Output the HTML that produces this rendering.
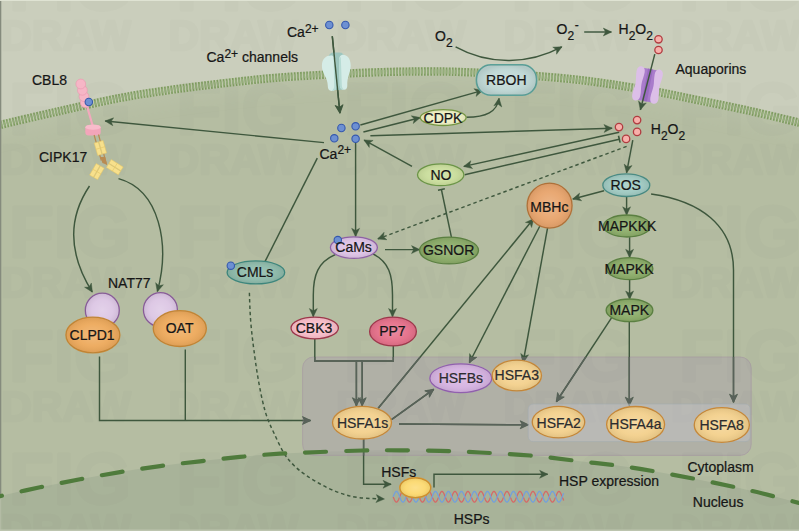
<!DOCTYPE html>
<html><head><meta charset="utf-8"><title>Heat stress signalling</title>
<style>
html,body{margin:0;padding:0;background:#cacebc;}
svg{display:block}
text{font-family:"Liberation Sans",Arial,sans-serif;font-size:14px;fill:#161616;stroke:#161616;stroke-width:0.22px}
.m{text-anchor:middle}
.g{fill:#2c2c2e;stroke:#2c2c2e}
.s{font-size:12px}
.ln{fill:none;stroke:#3e573d;stroke-width:1.45;stroke-linecap:butt}
.ar{marker-end:url(#ah)}
.lg{stroke:#59625a}
.arg{marker-end:url(#ahg)}
.dash{stroke-dasharray:3.5 2.9;stroke-width:1.45}
</style></head><body>
<svg width="799" height="531" viewBox="0 0 799 531">
<defs>
<marker id="ah" markerUnits="userSpaceOnUse" markerWidth="10" markerHeight="10" refX="9.6" refY="5" orient="auto" viewBox="0 0 10 10" overflow="visible">
<path d="M10,5 L1.6,1 L3.8,5 L1.6,9 Z" fill="#3e573d" stroke="#3e573d" stroke-width="0.4" stroke-linejoin="round"/>
</marker>
<marker id="tb" markerUnits="userSpaceOnUse" markerWidth="10" markerHeight="10" refX="5" refY="5" orient="auto" viewBox="0 0 10 10" overflow="visible">
<path d="M5,1.5 L5,8.5" stroke="#3e573d" stroke-width="1.6" fill="none"/>
</marker>
<marker id="ahg" markerUnits="userSpaceOnUse" markerWidth="10" markerHeight="10" refX="9.6" refY="5" orient="auto" viewBox="0 0 10 10" overflow="visible">
<path d="M10,5 L1.6,1 L3.8,5 L1.6,9 Z" fill="#59625a" stroke="#59625a" stroke-width="0.4" stroke-linejoin="round"/>
</marker>
<marker id="tbg" markerUnits="userSpaceOnUse" markerWidth="10" markerHeight="10" refX="5" refY="5" orient="auto" viewBox="0 0 10 10" overflow="visible">
<path d="M5,1.5 L5,8.5" stroke="#59625a" stroke-width="1.6" fill="none"/>
</marker>
<clipPath id="boxclip"><rect x="302.6" y="357" width="448.6" height="98.4" rx="11" ry="11"/></clipPath>
<radialGradient id="hl" cx="50%" cy="50%" r="50%">
<stop offset="0" stop-color="#fff" stop-opacity="0.2"/><stop offset="0.6" stop-color="#fff" stop-opacity="0.05"/><stop offset="1" stop-color="#000" stop-opacity="0.07"/>
</radialGradient>
</defs>
<!-- background -->
<rect x="0" y="0" width="799" height="531" fill="#cacebc"/>
<!-- cytoplasm -->
<path d="M-20.0,131.0 C-16.7,130.0 -13.3,128.3 0.0,125.0 C13.3,121.7 40.0,115.5 60.0,111.0 C80.0,106.5 101.7,101.5 120.0,98.0 C138.3,94.5 153.3,92.4 170.0,90.0 C186.7,87.6 203.3,85.7 220.0,83.7 C236.7,81.8 253.3,79.8 270.0,78.3 C286.7,76.8 305.0,75.9 320.0,75.0 C335.0,74.1 346.7,73.5 360.0,72.9 C373.3,72.4 388.3,71.9 400.0,71.7 C411.7,71.5 420.0,71.5 430.0,71.5 C440.0,71.5 446.7,71.5 460.0,72.0 C473.3,72.5 493.3,73.3 510.0,74.3 C526.7,75.3 545.2,76.6 560.0,78.0 C574.8,79.4 584.0,80.4 599.0,82.5 C614.0,84.6 633.3,87.5 650.0,90.5 C666.7,93.5 682.3,97.0 699.0,100.4 C715.7,103.8 733.3,107.3 750.0,111.0 C766.7,114.7 787.3,119.8 799.0,122.6 C810.7,125.4 816.5,127.1 820.0,128.0 L820,540 L-20,540 Z" fill="#b5bda2"/>
<!-- nucleus -->
<path d="M-20.0,501.0 C-16.7,500.2 -10.0,498.4 0.0,496.1 C10.0,493.8 26.7,490.1 40.0,487.3 C53.3,484.5 66.7,481.8 80.0,479.3 C93.3,476.8 106.7,474.3 120.0,472.1 C133.3,469.9 146.7,467.9 160.0,466.1 C173.3,464.3 186.7,462.8 200.0,461.3 C213.3,459.8 226.7,458.2 240.0,456.9 C253.3,455.6 266.7,454.5 280.0,453.7 C293.3,452.9 306.2,452.5 320.0,452.0 C333.8,451.5 349.7,450.8 363.0,450.5 C376.3,450.2 387.2,450.2 400.0,450.3 C412.8,450.4 426.7,450.4 440.0,450.8 C453.3,451.2 465.0,451.7 480.0,452.5 C495.0,453.3 513.3,454.0 530.0,455.5 C546.7,457.0 563.2,459.3 580.0,461.3 C596.8,463.3 612.0,464.6 631.0,467.5 C650.0,470.4 674.2,474.9 694.0,478.7 C713.8,482.5 732.5,486.5 750.0,490.5 C767.5,494.5 787.3,499.9 799.0,502.9 C810.7,505.9 816.5,507.6 820.0,508.5 L820,540 L-20,540 Z" fill="#a8b399"/>
<!-- halo under membrane -->
<clipPath id="cyt"><path d="M-20.0,131.0 C-16.7,130.0 -13.3,128.3 0.0,125.0 C13.3,121.7 40.0,115.5 60.0,111.0 C80.0,106.5 101.7,101.5 120.0,98.0 C138.3,94.5 153.3,92.4 170.0,90.0 C186.7,87.6 203.3,85.7 220.0,83.7 C236.7,81.8 253.3,79.8 270.0,78.3 C286.7,76.8 305.0,75.9 320.0,75.0 C335.0,74.1 346.7,73.5 360.0,72.9 C373.3,72.4 388.3,71.9 400.0,71.7 C411.7,71.5 420.0,71.5 430.0,71.5 C440.0,71.5 446.7,71.5 460.0,72.0 C473.3,72.5 493.3,73.3 510.0,74.3 C526.7,75.3 545.2,76.6 560.0,78.0 C574.8,79.4 584.0,80.4 599.0,82.5 C614.0,84.6 633.3,87.5 650.0,90.5 C666.7,93.5 682.3,97.0 699.0,100.4 C715.7,103.8 733.3,107.3 750.0,111.0 C766.7,114.7 787.3,119.8 799.0,122.6 C810.7,125.4 816.5,127.1 820.0,128.0 L820,540 L-20,540 Z"/></clipPath>
<filter id="bl" x="-5%" y="-50%" width="110%" height="200%"><feGaussianBlur stdDeviation="7"/></filter>
<g clip-path="url(#cyt)"><path d="M-20.0,131.0 C-16.7,130.0 -13.3,128.3 0.0,125.0 C13.3,121.7 40.0,115.5 60.0,111.0 C80.0,106.5 101.7,101.5 120.0,98.0 C138.3,94.5 153.3,92.4 170.0,90.0 C186.7,87.6 203.3,85.7 220.0,83.7 C236.7,81.8 253.3,79.8 270.0,78.3 C286.7,76.8 305.0,75.9 320.0,75.0 C335.0,74.1 346.7,73.5 360.0,72.9 C373.3,72.4 388.3,71.9 400.0,71.7 C411.7,71.5 420.0,71.5 430.0,71.5 C440.0,71.5 446.7,71.5 460.0,72.0 C473.3,72.5 493.3,73.3 510.0,74.3 C526.7,75.3 545.2,76.6 560.0,78.0 C574.8,79.4 584.0,80.4 599.0,82.5 C614.0,84.6 633.3,87.5 650.0,90.5 C666.7,93.5 682.3,97.0 699.0,100.4 C715.7,103.8 733.3,107.3 750.0,111.0 C766.7,114.7 787.3,119.8 799.0,122.6 C810.7,125.4 816.5,127.1 820.0,128.0" fill="none" stroke="#c6ccb6" stroke-width="26" stroke-opacity="0.22" filter="url(#bl)"/></g>
<!-- membrane -->
<path d="M-20.0,131.0 C-16.7,130.0 -13.3,128.3 0.0,125.0 C13.3,121.7 40.0,115.5 60.0,111.0 C80.0,106.5 101.7,101.5 120.0,98.0 C138.3,94.5 153.3,92.4 170.0,90.0 C186.7,87.6 203.3,85.7 220.0,83.7 C236.7,81.8 253.3,79.8 270.0,78.3 C286.7,76.8 305.0,75.9 320.0,75.0 C335.0,74.1 346.7,73.5 360.0,72.9 C373.3,72.4 388.3,71.9 400.0,71.7 C411.7,71.5 420.0,71.5 430.0,71.5 C440.0,71.5 446.7,71.5 460.0,72.0 C473.3,72.5 493.3,73.3 510.0,74.3 C526.7,75.3 545.2,76.6 560.0,78.0 C574.8,79.4 584.0,80.4 599.0,82.5 C614.0,84.6 633.3,87.5 650.0,90.5 C666.7,93.5 682.3,97.0 699.0,100.4 C715.7,103.8 733.3,107.3 750.0,111.0 C766.7,114.7 787.3,119.8 799.0,122.6 C810.7,125.4 816.5,127.1 820.0,128.0" fill="none" stroke="#bfc8ac" stroke-width="8.4"/>
<path d="M-20.0,131.0 C-16.7,130.0 -13.3,128.3 0.0,125.0 C13.3,121.7 40.0,115.5 60.0,111.0 C80.0,106.5 101.7,101.5 120.0,98.0 C138.3,94.5 153.3,92.4 170.0,90.0 C186.7,87.6 203.3,85.7 220.0,83.7 C236.7,81.8 253.3,79.8 270.0,78.3 C286.7,76.8 305.0,75.9 320.0,75.0 C335.0,74.1 346.7,73.5 360.0,72.9 C373.3,72.4 388.3,71.9 400.0,71.7 C411.7,71.5 420.0,71.5 430.0,71.5 C440.0,71.5 446.7,71.5 460.0,72.0 C473.3,72.5 493.3,73.3 510.0,74.3 C526.7,75.3 545.2,76.6 560.0,78.0 C574.8,79.4 584.0,80.4 599.0,82.5 C614.0,84.6 633.3,87.5 650.0,90.5 C666.7,93.5 682.3,97.0 699.0,100.4 C715.7,103.8 733.3,107.3 750.0,111.0 C766.7,114.7 787.3,119.8 799.0,122.6 C810.7,125.4 816.5,127.1 820.0,128.0" fill="none" stroke="#7f9c61" stroke-width="8.4" stroke-dasharray="1.7 1.4"/>
<path d="M-20.0,131.0 C-16.7,130.0 -13.3,128.3 0.0,125.0 C13.3,121.7 40.0,115.5 60.0,111.0 C80.0,106.5 101.7,101.5 120.0,98.0 C138.3,94.5 153.3,92.4 170.0,90.0 C186.7,87.6 203.3,85.7 220.0,83.7 C236.7,81.8 253.3,79.8 270.0,78.3 C286.7,76.8 305.0,75.9 320.0,75.0 C335.0,74.1 346.7,73.5 360.0,72.9 C373.3,72.4 388.3,71.9 400.0,71.7 C411.7,71.5 420.0,71.5 430.0,71.5 C440.0,71.5 446.7,71.5 460.0,72.0 C473.3,72.5 493.3,73.3 510.0,74.3 C526.7,75.3 545.2,76.6 560.0,78.0 C574.8,79.4 584.0,80.4 599.0,82.5 C614.0,84.6 633.3,87.5 650.0,90.5 C666.7,93.5 682.3,97.0 699.0,100.4 C715.7,103.8 733.3,107.3 750.0,111.0 C766.7,114.7 787.3,119.8 799.0,122.6 C810.7,125.4 816.5,127.1 820.0,128.0" fill="none" stroke="#94ad7a" stroke-width="4.4" stroke-dasharray="1.7 1.4"/>
<!-- grey box base -->
<rect x="302.6" y="357" width="448.6" height="98.4" rx="11" ry="11" fill="#aba3a9" fill-opacity="0.5" stroke="#a48fa2" stroke-opacity="0.5" stroke-width="1"/>
<g id="watermark" opacity="0.0095" style="font-weight:bold" fill="#000" stroke="#000" stroke-width="3.5" stroke-linejoin="round"><text x="9.0" y="10.0" style="font-size:72px;stroke:#000;stroke-width:3.5px;fill:#000" textLength="122" lengthAdjust="spacingAndGlyphs">FIG</text><text x="1.0" y="50.0" style="font-size:42px;stroke:#000;stroke-width:3px;fill:#000" textLength="130" lengthAdjust="spacingAndGlyphs">DRAW</text><text x="176.5" y="10.0" style="font-size:72px;stroke:#000;stroke-width:3.5px;fill:#000" textLength="122" lengthAdjust="spacingAndGlyphs">FIG</text><text x="168.5" y="50.0" style="font-size:42px;stroke:#000;stroke-width:3px;fill:#000" textLength="130" lengthAdjust="spacingAndGlyphs">DRAW</text><text x="344.0" y="10.0" style="font-size:72px;stroke:#000;stroke-width:3.5px;fill:#000" textLength="122" lengthAdjust="spacingAndGlyphs">FIG</text><text x="336.0" y="50.0" style="font-size:42px;stroke:#000;stroke-width:3px;fill:#000" textLength="130" lengthAdjust="spacingAndGlyphs">DRAW</text><text x="511.5" y="10.0" style="font-size:72px;stroke:#000;stroke-width:3.5px;fill:#000" textLength="122" lengthAdjust="spacingAndGlyphs">FIG</text><text x="503.5" y="50.0" style="font-size:42px;stroke:#000;stroke-width:3px;fill:#000" textLength="130" lengthAdjust="spacingAndGlyphs">DRAW</text><text x="679.0" y="10.0" style="font-size:72px;stroke:#000;stroke-width:3.5px;fill:#000" textLength="122" lengthAdjust="spacingAndGlyphs">FIG</text><text x="671.0" y="50.0" style="font-size:42px;stroke:#000;stroke-width:3px;fill:#000" textLength="130" lengthAdjust="spacingAndGlyphs">DRAW</text><text x="9.0" y="133.6" style="font-size:72px;stroke:#000;stroke-width:3.5px;fill:#000" textLength="122" lengthAdjust="spacingAndGlyphs">FIG</text><text x="1.0" y="173.6" style="font-size:42px;stroke:#000;stroke-width:3px;fill:#000" textLength="130" lengthAdjust="spacingAndGlyphs">DRAW</text><text x="176.5" y="133.6" style="font-size:72px;stroke:#000;stroke-width:3.5px;fill:#000" textLength="122" lengthAdjust="spacingAndGlyphs">FIG</text><text x="168.5" y="173.6" style="font-size:42px;stroke:#000;stroke-width:3px;fill:#000" textLength="130" lengthAdjust="spacingAndGlyphs">DRAW</text><text x="344.0" y="133.6" style="font-size:72px;stroke:#000;stroke-width:3.5px;fill:#000" textLength="122" lengthAdjust="spacingAndGlyphs">FIG</text><text x="336.0" y="173.6" style="font-size:42px;stroke:#000;stroke-width:3px;fill:#000" textLength="130" lengthAdjust="spacingAndGlyphs">DRAW</text><text x="511.5" y="133.6" style="font-size:72px;stroke:#000;stroke-width:3.5px;fill:#000" textLength="122" lengthAdjust="spacingAndGlyphs">FIG</text><text x="503.5" y="173.6" style="font-size:42px;stroke:#000;stroke-width:3px;fill:#000" textLength="130" lengthAdjust="spacingAndGlyphs">DRAW</text><text x="679.0" y="133.6" style="font-size:72px;stroke:#000;stroke-width:3.5px;fill:#000" textLength="122" lengthAdjust="spacingAndGlyphs">FIG</text><text x="671.0" y="173.6" style="font-size:42px;stroke:#000;stroke-width:3px;fill:#000" textLength="130" lengthAdjust="spacingAndGlyphs">DRAW</text><text x="9.0" y="257.2" style="font-size:72px;stroke:#000;stroke-width:3.5px;fill:#000" textLength="122" lengthAdjust="spacingAndGlyphs">FIG</text><text x="1.0" y="297.2" style="font-size:42px;stroke:#000;stroke-width:3px;fill:#000" textLength="130" lengthAdjust="spacingAndGlyphs">DRAW</text><text x="176.5" y="257.2" style="font-size:72px;stroke:#000;stroke-width:3.5px;fill:#000" textLength="122" lengthAdjust="spacingAndGlyphs">FIG</text><text x="168.5" y="297.2" style="font-size:42px;stroke:#000;stroke-width:3px;fill:#000" textLength="130" lengthAdjust="spacingAndGlyphs">DRAW</text><text x="344.0" y="257.2" style="font-size:72px;stroke:#000;stroke-width:3.5px;fill:#000" textLength="122" lengthAdjust="spacingAndGlyphs">FIG</text><text x="336.0" y="297.2" style="font-size:42px;stroke:#000;stroke-width:3px;fill:#000" textLength="130" lengthAdjust="spacingAndGlyphs">DRAW</text><text x="511.5" y="257.2" style="font-size:72px;stroke:#000;stroke-width:3.5px;fill:#000" textLength="122" lengthAdjust="spacingAndGlyphs">FIG</text><text x="503.5" y="297.2" style="font-size:42px;stroke:#000;stroke-width:3px;fill:#000" textLength="130" lengthAdjust="spacingAndGlyphs">DRAW</text><text x="679.0" y="257.2" style="font-size:72px;stroke:#000;stroke-width:3.5px;fill:#000" textLength="122" lengthAdjust="spacingAndGlyphs">FIG</text><text x="671.0" y="297.2" style="font-size:42px;stroke:#000;stroke-width:3px;fill:#000" textLength="130" lengthAdjust="spacingAndGlyphs">DRAW</text><text x="9.0" y="380.8" style="font-size:72px;stroke:#000;stroke-width:3.5px;fill:#000" textLength="122" lengthAdjust="spacingAndGlyphs">FIG</text><text x="1.0" y="420.8" style="font-size:42px;stroke:#000;stroke-width:3px;fill:#000" textLength="130" lengthAdjust="spacingAndGlyphs">DRAW</text><text x="176.5" y="380.8" style="font-size:72px;stroke:#000;stroke-width:3.5px;fill:#000" textLength="122" lengthAdjust="spacingAndGlyphs">FIG</text><text x="168.5" y="420.8" style="font-size:42px;stroke:#000;stroke-width:3px;fill:#000" textLength="130" lengthAdjust="spacingAndGlyphs">DRAW</text><text x="344.0" y="380.8" style="font-size:72px;stroke:#000;stroke-width:3.5px;fill:#000" textLength="122" lengthAdjust="spacingAndGlyphs">FIG</text><text x="336.0" y="420.8" style="font-size:42px;stroke:#000;stroke-width:3px;fill:#000" textLength="130" lengthAdjust="spacingAndGlyphs">DRAW</text><text x="511.5" y="380.8" style="font-size:72px;stroke:#000;stroke-width:3.5px;fill:#000" textLength="122" lengthAdjust="spacingAndGlyphs">FIG</text><text x="503.5" y="420.8" style="font-size:42px;stroke:#000;stroke-width:3px;fill:#000" textLength="130" lengthAdjust="spacingAndGlyphs">DRAW</text><text x="679.0" y="380.8" style="font-size:72px;stroke:#000;stroke-width:3.5px;fill:#000" textLength="122" lengthAdjust="spacingAndGlyphs">FIG</text><text x="671.0" y="420.8" style="font-size:42px;stroke:#000;stroke-width:3px;fill:#000" textLength="130" lengthAdjust="spacingAndGlyphs">DRAW</text><text x="9.0" y="504.4" style="font-size:72px;stroke:#000;stroke-width:3.5px;fill:#000" textLength="122" lengthAdjust="spacingAndGlyphs">FIG</text><text x="1.0" y="544.4" style="font-size:42px;stroke:#000;stroke-width:3px;fill:#000" textLength="130" lengthAdjust="spacingAndGlyphs">DRAW</text><text x="176.5" y="504.4" style="font-size:72px;stroke:#000;stroke-width:3.5px;fill:#000" textLength="122" lengthAdjust="spacingAndGlyphs">FIG</text><text x="168.5" y="544.4" style="font-size:42px;stroke:#000;stroke-width:3px;fill:#000" textLength="130" lengthAdjust="spacingAndGlyphs">DRAW</text><text x="344.0" y="504.4" style="font-size:72px;stroke:#000;stroke-width:3.5px;fill:#000" textLength="122" lengthAdjust="spacingAndGlyphs">FIG</text><text x="336.0" y="544.4" style="font-size:42px;stroke:#000;stroke-width:3px;fill:#000" textLength="130" lengthAdjust="spacingAndGlyphs">DRAW</text><text x="511.5" y="504.4" style="font-size:72px;stroke:#000;stroke-width:3.5px;fill:#000" textLength="122" lengthAdjust="spacingAndGlyphs">FIG</text><text x="503.5" y="544.4" style="font-size:42px;stroke:#000;stroke-width:3px;fill:#000" textLength="130" lengthAdjust="spacingAndGlyphs">DRAW</text><text x="679.0" y="504.4" style="font-size:72px;stroke:#000;stroke-width:3.5px;fill:#000" textLength="122" lengthAdjust="spacingAndGlyphs">FIG</text><text x="671.0" y="544.4" style="font-size:42px;stroke:#000;stroke-width:3px;fill:#000" textLength="130" lengthAdjust="spacingAndGlyphs">DRAW</text></g>
<!-- edges -->
<rect x="0" y="0" width="1.3" height="494" fill="#858b7d"/>
<rect x="0" y="496" width="1.2" height="35" fill="#b3bba4"/>
<rect x="0" y="0" width="799" height="1" fill="#dfe3d3"/>
<rect x="0" y="529.5" width="799" height="1.5" fill="#bcc4ae"/>

<g id="lines">
<!-- Ca channel arrow -->
<path class="ln ar" d="M332.3,36.3 L339.9,113"/>
<!-- Ca -> CBL8 -->
<path class="ln ar" d="M324,142.6 L105.3,121"/>
<!-- Ca -> CMLs -->
<path class="ln" d="M317.3,158.1 L264.7,262.2"/>
<!-- Ca -> CaMs -->
<path class="ln ar" d="M355.6,142.6 L355.6,236.3"/>
<!-- Ca -> RBOH -->
<path class="ln ar" d="M360.4,125 L482.7,90.4"/>
<!-- Ca -> CDPK -->
<path class="ln ar" d="M363.4,132 L420,117.7"/>
<!-- Ca -> H2O2 -->
<path class="ln ar" d="M370.4,135.8 L612,128.2"/>
<!-- CDPK -> RBOH -->
<path class="ln ar" d="M466.4,117.3 C486,117 497,112 499,98.5"/>
<!-- O2 -> O2- -->
<path class="ln ar" d="M455.6,46.9 C490,66 530,64 561.7,46.9"/>
<!-- O2- -> H2O2 -->
<path class="ln ar" d="M584.2,32 L611.3,32"/>
<!-- aquaporin arrow placeholder (drawn later on top) -->
<!-- NO -> Ca -->
<path class="ln ar" d="M412,166.4 L364.2,140.1"/>
<!-- H2O2 -> NO -->
<path class="ln ar" d="M619.2,132.3 L463.9,166.4"/>
<!-- NO -| H2O2 -->
<path class="ln" d="M464.7,174.7 L619.3,139.2" marker-end="url(#tb)"/>
<!-- GSNOR -| NO -->
<path class="ln" d="M451.4,237.1 L441.4,189.5" marker-end="url(#tb)"/>
<!-- H2O2 - - > CaMs -->
<path class="ln ar dash" d="M626.6,146.4 L378,238.8"/>
<!-- H2O2 -> ROS -->
<path class="ln ar" d="M632.8,140.1 L626.6,172.7"/>
<!-- ROS -> MBHc -->
<path class="ln ar" d="M604,190.8 L572.9,199"/>
<!-- ROS -> MAPKKK -->
<path class="ln ar" d="M626.6,196.5 L626.6,214.8"/>
<path class="ln ar" d="M629.6,237.1 L629.6,257.3"/>
<path class="ln ar" d="M629.6,279.7 L629.6,299"/>
<!-- ROS -> HSFA8 -->
<path class="ln ar" d="M651.1,194 C700,201 733.5,225 733.5,270 L733.5,402.2"/>
<!-- CaMs -> GSNOR -->
<path class="ln ar" d="M385,249.6 L419.5,249.6"/>
<!-- CaMs -> CBK3 / PP7 -->
<path class="ln ar" d="M335.3,254.6 C318,262 313.3,275 313.3,295 L313.3,316.5"/>
<path class="ln ar" d="M372.9,253.9 C389,262 392.5,275 392.5,295 L392.5,316.5"/>
<!-- CBK3, PP7 -> HSFA1s -->
<path class="ln ar" d="M314.8,338.8 L314.8,360.9 L356.4,360.9 L356.4,405.7"/>
<path class="ln ar" d="M393.3,345.9 L393.3,360.9 L362.2,360.9 L362.2,405.7"/>
<path class="ln" d="M356.4,360.9 L362.2,360.9"/>
<!-- HSFA1s -> MBHc -->
<path class="ln ar" d="M378.2,408.2 L533.6,218.8"/>
<!-- HSFA1s -> HSFBs -->
<path class="ln ar" d="M391.5,419.7 L433.6,389.4"/>
<!-- HSFA1s -> HSFA2 -->
<path class="ln ar" d="M399,424 L528.2,424.8"/>
<!-- MBHc -> HSFBs, HSFA3 -->
<path class="ln ar" d="M540.4,225 L469.5,362.5"/>
<path class="ln ar" d="M547.9,226 L523.2,362"/>
<!-- MAPK -> HSFA2, HSFA4a -->
<path class="ln ar" d="M611.5,317.8 L556.5,401.5"/>
<path class="ln ar" d="M629.3,321.6 L629.3,405.2"/>
<!-- CIPK17 -> CLPD1 / OAT -->
<path class="ln ar" d="M89.5,186 C70,215 66,250 92.2,291.9"/>
<path class="ln ar" d="M118.5,178.6 C160,190 170,245 157.4,291.4"/>
<!-- CLPD1, OAT -> HSFA1s -->
<path class="ln ar" d="M99.5,356.5 L99.5,420.5 L310.4,420.5"/>
<path class="ln" d="M185.3,349.5 L185.3,420.5"/>
<!-- CMLs - - > HSPs -->
<path class="ln ar dash" d="M249.4,292.7 C249.5,295.6 249.7,303.8 250.0,310.0 C250.3,316.2 250.8,323.3 251.5,330.0 C252.2,336.7 252.9,342.5 253.9,350.0 C254.9,357.5 256.1,366.7 257.5,375.0 C258.9,383.3 260.7,393.0 262.3,400.0 C263.9,407.0 265.1,411.5 267.0,417.0 C268.9,422.5 271.0,426.9 273.9,433.0 C276.8,439.1 280.8,448.1 284.2,453.5 C287.6,458.9 290.4,461.9 294.0,465.5 C297.6,469.1 301.2,471.9 305.9,475.1 C310.6,478.4 316.3,482.0 322.0,485.0 C327.7,488.0 333.9,490.9 340.0,493.0 C346.1,495.1 351.4,496.6 358.8,497.6 C366.2,498.6 379.9,498.8 384.1,499.0"/>
<!-- HSFA1s -> HSFs -->
<path class="ln ar" d="M363.6,439 L363.6,484.3 L391,484.3"/>
<!-- HSP expression -->
<path class="ln ar" d="M434,487.6 L434,474.3 L547.6,474.3"/>
</g>
<g id="lines-box" clip-path="url(#boxclip)">
<!-- Ca channel arrow -->
<path class="ln lg arg" d="M332.3,36.3 L339.9,113"/>
<!-- Ca -> CBL8 -->
<path class="ln lg arg" d="M324,142.6 L105.3,121"/>
<!-- Ca -> CMLs -->
<path class="ln lg" d="M317.3,158.1 L264.7,262.2"/>
<!-- Ca -> CaMs -->
<path class="ln lg arg" d="M355.6,142.6 L355.6,236.3"/>
<!-- Ca -> RBOH -->
<path class="ln lg arg" d="M360.4,125 L482.7,90.4"/>
<!-- Ca -> CDPK -->
<path class="ln lg arg" d="M363.4,132 L420,117.7"/>
<!-- Ca -> H2O2 -->
<path class="ln lg arg" d="M370.4,135.8 L612,128.2"/>
<!-- CDPK -> RBOH -->
<path class="ln lg arg" d="M466.4,117.3 C486,117 497,112 499,98.5"/>
<!-- O2 -> O2- -->
<path class="ln lg arg" d="M455.6,46.9 C490,66 530,64 561.7,46.9"/>
<!-- O2- -> H2O2 -->
<path class="ln lg arg" d="M584.2,32 L611.3,32"/>
<!-- aquaporin arrow placeholder (drawn later on top) -->
<!-- NO -> Ca -->
<path class="ln lg arg" d="M412,166.4 L364.2,140.1"/>
<!-- H2O2 -> NO -->
<path class="ln lg arg" d="M619.2,132.3 L463.9,166.4"/>
<!-- NO -| H2O2 -->
<path class="ln lg" d="M464.7,174.7 L619.3,139.2" marker-end="url(#tbg)"/>
<!-- GSNOR -| NO -->
<path class="ln lg" d="M451.4,237.1 L441.4,189.5" marker-end="url(#tbg)"/>
<!-- H2O2 - - > CaMs -->
<path class="ln lg arg dash" d="M626.6,146.4 L378,238.8"/>
<!-- H2O2 -> ROS -->
<path class="ln lg arg" d="M632.8,140.1 L626.6,172.7"/>
<!-- ROS -> MBHc -->
<path class="ln lg arg" d="M604,190.8 L572.9,199"/>
<!-- ROS -> MAPKKK -->
<path class="ln lg arg" d="M626.6,196.5 L626.6,214.8"/>
<path class="ln lg arg" d="M629.6,237.1 L629.6,257.3"/>
<path class="ln lg arg" d="M629.6,279.7 L629.6,299"/>
<!-- ROS -> HSFA8 -->
<path class="ln lg arg" d="M651.1,194 C700,201 733.5,225 733.5,270 L733.5,402.2"/>
<!-- CaMs -> GSNOR -->
<path class="ln lg arg" d="M385,249.6 L419.5,249.6"/>
<!-- CaMs -> CBK3 / PP7 -->
<path class="ln lg arg" d="M335.3,254.6 C318,262 313.3,275 313.3,295 L313.3,316.5"/>
<path class="ln lg arg" d="M372.9,253.9 C389,262 392.5,275 392.5,295 L392.5,316.5"/>
<!-- CBK3, PP7 -> HSFA1s -->
<path class="ln lg arg" d="M314.8,338.8 L314.8,360.9 L356.4,360.9 L356.4,405.7"/>
<path class="ln lg arg" d="M393.3,345.9 L393.3,360.9 L362.2,360.9 L362.2,405.7"/>
<path class="ln lg" d="M356.4,360.9 L362.2,360.9"/>
<!-- HSFA1s -> MBHc -->
<path class="ln lg arg" d="M378.2,408.2 L533.6,218.8"/>
<!-- HSFA1s -> HSFBs -->
<path class="ln lg arg" d="M391.5,419.7 L433.6,389.4"/>
<!-- HSFA1s -> HSFA2 -->
<path class="ln lg arg" d="M399,424 L528.2,424.8"/>
<!-- MBHc -> HSFBs, HSFA3 -->
<path class="ln lg arg" d="M540.4,225 L469.5,362.5"/>
<path class="ln lg arg" d="M547.9,226 L523.2,362"/>
<!-- MAPK -> HSFA2, HSFA4a -->
<path class="ln lg arg" d="M611.5,317.8 L556.5,401.5"/>
<path class="ln lg arg" d="M629.3,321.6 L629.3,405.2"/>
<!-- CIPK17 -> CLPD1 / OAT -->
<path class="ln lg arg" d="M89.5,186 C70,215 66,250 92.2,291.9"/>
<path class="ln lg arg" d="M118.5,178.6 C160,190 170,245 157.4,291.4"/>
<!-- CLPD1, OAT -> HSFA1s -->
<path class="ln lg arg" d="M99.5,356.5 L99.5,420.5 L310.4,420.5"/>
<path class="ln lg" d="M185.3,349.5 L185.3,420.5"/>
<!-- CMLs - - > HSPs -->
<path class="ln lg arg dash" d="M249.4,292.7 C249.5,295.6 249.7,303.8 250.0,310.0 C250.3,316.2 250.8,323.3 251.5,330.0 C252.2,336.7 252.9,342.5 253.9,350.0 C254.9,357.5 256.1,366.7 257.5,375.0 C258.9,383.3 260.7,393.0 262.3,400.0 C263.9,407.0 265.1,411.5 267.0,417.0 C268.9,422.5 271.0,426.9 273.9,433.0 C276.8,439.1 280.8,448.1 284.2,453.5 C287.6,458.9 290.4,461.9 294.0,465.5 C297.6,469.1 301.2,471.9 305.9,475.1 C310.6,478.4 316.3,482.0 322.0,485.0 C327.7,488.0 333.9,490.9 340.0,493.0 C346.1,495.1 351.4,496.6 358.8,497.6 C366.2,498.6 379.9,498.8 384.1,499.0"/>
<!-- HSFA1s -> HSFs -->
<path class="ln lg arg" d="M363.6,439 L363.6,484.3 L391,484.3"/>
<!-- HSP expression -->
<path class="ln lg arg" d="M434,487.6 L434,474.3 L547.6,474.3"/>
</g>

<!-- grey box overlay -->
<rect x="528.2" y="404" width="222" height="37.6" rx="5" ry="5" fill="#c2c1c4" fill-opacity="0.5" stroke="#a3abb0" stroke-opacity="0.55" stroke-width="1"/>
<!-- nuclear envelope -->
<path d="M-20.0,501.0 C-16.7,500.2 -10.0,498.4 0.0,496.1 C10.0,493.8 26.7,490.1 40.0,487.3 C53.3,484.5 66.7,481.8 80.0,479.3 C93.3,476.8 106.7,474.3 120.0,472.1 C133.3,469.9 146.7,467.9 160.0,466.1 C173.3,464.3 186.7,462.8 200.0,461.3 C213.3,459.8 226.7,458.2 240.0,456.9 C253.3,455.6 266.7,454.5 280.0,453.7 C293.3,452.9 306.2,452.5 320.0,452.0 C333.8,451.5 349.7,450.8 363.0,450.5 C376.3,450.2 387.2,450.2 400.0,450.3 C412.8,450.4 426.7,450.4 440.0,450.8 C453.3,451.2 465.0,451.7 480.0,452.5 C495.0,453.3 513.3,454.0 530.0,455.5 C546.7,457.0 563.2,459.3 580.0,461.3 C596.8,463.3 612.0,464.6 631.0,467.5 C650.0,470.4 674.2,474.9 694.0,478.7 C713.8,482.5 732.5,486.5 750.0,490.5 C767.5,494.5 787.3,499.9 799.0,502.9 C810.7,505.9 816.5,507.6 820.0,508.5" fill="none" stroke="#4f7b3c" stroke-width="4.2" stroke-dasharray="21 19.95" stroke-dashoffset="-1.7" stroke-linecap="round"/>

<!-- DNA -->
<path d="M393.2,496.8 L393.7,498.1 L394.2,499.3 L394.7,500.4 L395.2,501.2 L395.7,501.8 L396.2,502.2 L396.7,502.2 L397.2,501.8 L397.7,501.2 L398.2,500.4 L398.7,499.3 L399.2,498.1 L399.7,496.8 L400.2,495.5 L400.7,494.3 L401.2,493.2 L401.7,492.4 L402.2,491.8 L402.7,491.4 L403.2,491.4 L403.7,491.8 L404.2,492.4 L404.7,493.2 L405.2,494.3 L405.7,495.5 L406.2,496.8 L406.7,498.1 L407.2,499.3 L407.7,500.4 L408.2,501.2 L408.7,501.8 L409.2,502.2 L409.7,502.2 L410.2,501.8 L410.7,501.2 L411.2,500.4 L411.7,499.3 L412.2,498.1 L412.7,496.8 L413.2,495.5 L413.7,494.3 L414.2,493.2 L414.7,492.4 L415.2,491.8 L415.7,491.4 L416.2,491.4 L416.7,491.8 L417.2,492.4 L417.7,493.2 L418.2,494.3 L418.7,495.5 L419.2,496.8 L419.7,498.1 L420.2,499.3 L420.7,500.4 L421.2,501.2 L421.7,501.8 L422.2,502.2 L422.7,502.2 L423.2,501.8 L423.7,501.2 L424.2,500.4 L424.7,499.3 L425.2,498.1 L425.7,496.8 L426.2,495.5 L426.7,494.3 L427.2,493.2 L427.7,492.4 L428.2,491.8 L428.7,491.4 L429.2,491.4 L429.7,491.8 L430.2,492.4 L430.7,493.2 L431.2,494.3 L431.7,495.5 L432.2,496.8 L432.7,498.1 L433.2,499.3 L433.7,500.4 L434.2,501.2 L434.7,501.8 L435.2,502.2 L435.7,502.2 L436.2,501.8 L436.7,501.2 L437.2,500.4 L437.7,499.3 L438.2,498.1 L438.7,496.8 L439.2,495.5 L439.7,494.3 L440.2,493.2 L440.7,492.4 L441.2,491.8 L441.7,491.4 L442.2,491.4 L442.7,491.8 L443.2,492.4 L443.7,493.2 L444.2,494.3 L444.7,495.5 L445.2,496.8 L445.7,498.1 L446.2,499.3 L446.7,500.4 L447.2,501.2 L447.7,501.8 L448.2,502.2 L448.7,502.2 L449.2,501.8 L449.7,501.2 L450.2,500.4 L450.7,499.3 L451.2,498.1 L451.7,496.8 L452.2,495.5 L452.7,494.3 L453.2,493.2 L453.7,492.4 L454.2,491.8 L454.7,491.4 L455.2,491.4 L455.7,491.8 L456.2,492.4 L456.7,493.2 L457.2,494.3 L457.7,495.5 L458.2,496.8 L458.7,498.1 L459.2,499.3 L459.7,500.4 L460.2,501.2 L460.7,501.8 L461.2,502.2 L461.7,502.2 L462.2,501.8 L462.7,501.2 L463.2,500.4 L463.7,499.3 L464.2,498.1 L464.7,496.8 L465.2,495.5 L465.7,494.3 L466.2,493.2 L466.7,492.4 L467.2,491.8 L467.7,491.4 L468.2,491.4 L468.7,491.8 L469.2,492.4 L469.7,493.2 L470.2,494.3 L470.7,495.5 L471.2,496.8 L471.7,498.1 L472.2,499.3 L472.7,500.4 L473.2,501.2 L473.7,501.8 L474.2,502.2 L474.7,502.2 L475.2,501.8 L475.7,501.2 L476.2,500.4 L476.7,499.3 L477.2,498.1 L477.7,496.8 L478.2,495.5 L478.7,494.3 L479.2,493.2 L479.7,492.4 L480.2,491.8 L480.7,491.4 L481.2,491.4 L481.7,491.8 L482.2,492.4 L482.7,493.2 L483.2,494.3 L483.7,495.5 L484.2,496.8 L484.7,498.1 L485.2,499.3 L485.7,500.4 L486.2,501.2 L486.7,501.8 L487.2,502.2 L487.7,502.2 L488.2,501.8 L488.7,501.2 L489.2,500.4 L489.7,499.3 L490.2,498.1 L490.7,496.8 L491.2,495.5 L491.7,494.3 L492.2,493.2 L492.7,492.4 L493.2,491.8 L493.7,491.4 L494.2,491.4 L494.7,491.8 L495.2,492.4 L495.7,493.2 L496.2,494.3 L496.7,495.5 L497.2,496.8 L497.7,498.1 L498.2,499.3 L498.7,500.4 L499.2,501.2 L499.7,501.8 L500.2,502.2 L500.7,502.2 L501.2,501.8 L501.7,501.2 L502.2,500.4 L502.7,499.3 L503.2,498.1 L503.7,496.8 L504.2,495.5 L504.7,494.3 L505.2,493.2 L505.7,492.4 L506.2,491.8 L506.7,491.4 L507.2,491.4 L507.7,491.8 L508.2,492.4 L508.7,493.2 L509.2,494.3 L509.7,495.5 L510.2,496.8 L510.7,498.1 L511.2,499.3 L511.7,500.4 L512.2,501.2 L512.7,501.8 L513.2,502.2 L513.7,502.2 L514.2,501.8 L514.7,501.2 L515.2,500.4 L515.7,499.3 L516.2,498.1 L516.7,496.8 L517.2,495.5 L517.7,494.3 L518.2,493.2 L518.7,492.4 L519.2,491.8 L519.7,491.4 L520.2,491.4 L520.7,491.8 L521.2,492.4 L521.7,493.2 L522.2,494.3 L522.7,495.5 L523.2,496.8 L523.7,498.1 L524.2,499.3 L524.7,500.4 L525.2,501.2 L525.7,501.8 L526.2,502.2 L526.7,502.2 L527.2,501.8 L527.7,501.2 L528.2,500.4 L528.7,499.3 L529.2,498.1 L529.7,496.8 L530.2,495.5 L530.7,494.3 L531.2,493.2 L531.7,492.4 L532.2,491.8 L532.7,491.4 L533.2,491.4 L533.7,491.8 L534.2,492.4 L534.7,493.2 L535.2,494.3 L535.7,495.5 L536.2,496.8 L536.7,498.1 L537.2,499.3 L537.7,500.4 L538.2,501.2 L538.7,501.8 L539.2,502.2 L539.7,502.2 L540.2,501.8 L540.7,501.2 L541.2,500.4 L541.7,499.3 L542.2,498.1 L542.7,496.8 L543.2,495.5 L543.7,494.3 L544.2,493.2 L544.7,492.4 L545.2,491.8 L545.7,491.4 L546.2,491.4 L546.7,491.8 L547.2,492.4 L547.7,493.2 L548.2,494.3 L548.7,495.5 L549.2,496.8 L549.7,498.1 L550.2,499.3 L550.7,500.4 L551.2,501.2 L551.7,501.8 L552.2,502.2 L552.7,502.2 L553.2,501.8 L553.7,501.2 L554.2,500.4 L554.7,499.3 L555.2,498.1 L555.7,496.8 L556.2,495.5 L556.7,494.3 L557.2,493.2 L557.7,492.4 L558.2,491.8 L558.7,491.4 L559.2,491.4 L559.7,491.8 L560.2,492.4 L560.7,493.2 L561.2,494.3 L561.7,495.5 L562.2,496.8 L562.7,498.1 L563.2,499.3 L563.7,500.4 " fill="none" stroke="#d46a68" stroke-width="1.3"/>
<path d="M393.2,496.8 L393.7,495.5 L394.2,494.3 L394.7,493.2 L395.2,492.4 L395.7,491.8 L396.2,491.4 L396.7,491.4 L397.2,491.8 L397.7,492.4 L398.2,493.2 L398.7,494.3 L399.2,495.5 L399.7,496.8 L400.2,498.1 L400.7,499.3 L401.2,500.4 L401.7,501.2 L402.2,501.8 L402.7,502.2 L403.2,502.2 L403.7,501.8 L404.2,501.2 L404.7,500.4 L405.2,499.3 L405.7,498.1 L406.2,496.8 L406.7,495.5 L407.2,494.3 L407.7,493.2 L408.2,492.4 L408.7,491.8 L409.2,491.4 L409.7,491.4 L410.2,491.8 L410.7,492.4 L411.2,493.2 L411.7,494.3 L412.2,495.5 L412.7,496.8 L413.2,498.1 L413.7,499.3 L414.2,500.4 L414.7,501.2 L415.2,501.8 L415.7,502.2 L416.2,502.2 L416.7,501.8 L417.2,501.2 L417.7,500.4 L418.2,499.3 L418.7,498.1 L419.2,496.8 L419.7,495.5 L420.2,494.3 L420.7,493.2 L421.2,492.4 L421.7,491.8 L422.2,491.4 L422.7,491.4 L423.2,491.8 L423.7,492.4 L424.2,493.2 L424.7,494.3 L425.2,495.5 L425.7,496.8 L426.2,498.1 L426.7,499.3 L427.2,500.4 L427.7,501.2 L428.2,501.8 L428.7,502.2 L429.2,502.2 L429.7,501.8 L430.2,501.2 L430.7,500.4 L431.2,499.3 L431.7,498.1 L432.2,496.8 L432.7,495.5 L433.2,494.3 L433.7,493.2 L434.2,492.4 L434.7,491.8 L435.2,491.4 L435.7,491.4 L436.2,491.8 L436.7,492.4 L437.2,493.2 L437.7,494.3 L438.2,495.5 L438.7,496.8 L439.2,498.1 L439.7,499.3 L440.2,500.4 L440.7,501.2 L441.2,501.8 L441.7,502.2 L442.2,502.2 L442.7,501.8 L443.2,501.2 L443.7,500.4 L444.2,499.3 L444.7,498.1 L445.2,496.8 L445.7,495.5 L446.2,494.3 L446.7,493.2 L447.2,492.4 L447.7,491.8 L448.2,491.4 L448.7,491.4 L449.2,491.8 L449.7,492.4 L450.2,493.2 L450.7,494.3 L451.2,495.5 L451.7,496.8 L452.2,498.1 L452.7,499.3 L453.2,500.4 L453.7,501.2 L454.2,501.8 L454.7,502.2 L455.2,502.2 L455.7,501.8 L456.2,501.2 L456.7,500.4 L457.2,499.3 L457.7,498.1 L458.2,496.8 L458.7,495.5 L459.2,494.3 L459.7,493.2 L460.2,492.4 L460.7,491.8 L461.2,491.4 L461.7,491.4 L462.2,491.8 L462.7,492.4 L463.2,493.2 L463.7,494.3 L464.2,495.5 L464.7,496.8 L465.2,498.1 L465.7,499.3 L466.2,500.4 L466.7,501.2 L467.2,501.8 L467.7,502.2 L468.2,502.2 L468.7,501.8 L469.2,501.2 L469.7,500.4 L470.2,499.3 L470.7,498.1 L471.2,496.8 L471.7,495.5 L472.2,494.3 L472.7,493.2 L473.2,492.4 L473.7,491.8 L474.2,491.4 L474.7,491.4 L475.2,491.8 L475.7,492.4 L476.2,493.2 L476.7,494.3 L477.2,495.5 L477.7,496.8 L478.2,498.1 L478.7,499.3 L479.2,500.4 L479.7,501.2 L480.2,501.8 L480.7,502.2 L481.2,502.2 L481.7,501.8 L482.2,501.2 L482.7,500.4 L483.2,499.3 L483.7,498.1 L484.2,496.8 L484.7,495.5 L485.2,494.3 L485.7,493.2 L486.2,492.4 L486.7,491.8 L487.2,491.4 L487.7,491.4 L488.2,491.8 L488.7,492.4 L489.2,493.2 L489.7,494.3 L490.2,495.5 L490.7,496.8 L491.2,498.1 L491.7,499.3 L492.2,500.4 L492.7,501.2 L493.2,501.8 L493.7,502.2 L494.2,502.2 L494.7,501.8 L495.2,501.2 L495.7,500.4 L496.2,499.3 L496.7,498.1 L497.2,496.8 L497.7,495.5 L498.2,494.3 L498.7,493.2 L499.2,492.4 L499.7,491.8 L500.2,491.4 L500.7,491.4 L501.2,491.8 L501.7,492.4 L502.2,493.2 L502.7,494.3 L503.2,495.5 L503.7,496.8 L504.2,498.1 L504.7,499.3 L505.2,500.4 L505.7,501.2 L506.2,501.8 L506.7,502.2 L507.2,502.2 L507.7,501.8 L508.2,501.2 L508.7,500.4 L509.2,499.3 L509.7,498.1 L510.2,496.8 L510.7,495.5 L511.2,494.3 L511.7,493.2 L512.2,492.4 L512.7,491.8 L513.2,491.4 L513.7,491.4 L514.2,491.8 L514.7,492.4 L515.2,493.2 L515.7,494.3 L516.2,495.5 L516.7,496.8 L517.2,498.1 L517.7,499.3 L518.2,500.4 L518.7,501.2 L519.2,501.8 L519.7,502.2 L520.2,502.2 L520.7,501.8 L521.2,501.2 L521.7,500.4 L522.2,499.3 L522.7,498.1 L523.2,496.8 L523.7,495.5 L524.2,494.3 L524.7,493.2 L525.2,492.4 L525.7,491.8 L526.2,491.4 L526.7,491.4 L527.2,491.8 L527.7,492.4 L528.2,493.2 L528.7,494.3 L529.2,495.5 L529.7,496.8 L530.2,498.1 L530.7,499.3 L531.2,500.4 L531.7,501.2 L532.2,501.8 L532.7,502.2 L533.2,502.2 L533.7,501.8 L534.2,501.2 L534.7,500.4 L535.2,499.3 L535.7,498.1 L536.2,496.8 L536.7,495.5 L537.2,494.3 L537.7,493.2 L538.2,492.4 L538.7,491.8 L539.2,491.4 L539.7,491.4 L540.2,491.8 L540.7,492.4 L541.2,493.2 L541.7,494.3 L542.2,495.5 L542.7,496.8 L543.2,498.1 L543.7,499.3 L544.2,500.4 L544.7,501.2 L545.2,501.8 L545.7,502.2 L546.2,502.2 L546.7,501.8 L547.2,501.2 L547.7,500.4 L548.2,499.3 L548.7,498.1 L549.2,496.8 L549.7,495.5 L550.2,494.3 L550.7,493.2 L551.2,492.4 L551.7,491.8 L552.2,491.4 L552.7,491.4 L553.2,491.8 L553.7,492.4 L554.2,493.2 L554.7,494.3 L555.2,495.5 L555.7,496.8 L556.2,498.1 L556.7,499.3 L557.2,500.4 L557.7,501.2 L558.2,501.8 L558.7,502.2 L559.2,502.2 L559.7,501.8 L560.2,501.2 L560.7,500.4 L561.2,499.3 L561.7,498.1 L562.2,496.8 L562.7,495.5 L563.2,494.3 L563.7,493.2 " fill="none" stroke="#74a0da" stroke-width="1.3"/>

<g id="nodes" stroke-width="1.3">
<!-- RBOH -->
<rect x="476.4" y="64.7" width="60.2" height="30.5" rx="14.5" ry="14.5" fill="#bfd8d5" stroke="#5da39b" stroke-width="1.6"/><rect x="476.4" y="64.7" width="60.2" height="30.5" rx="14.5" ry="14.5" fill="url(#hl)" stroke="none"/>
<ellipse cx="443.2" cy="117.6" rx="23" ry="7.9" fill="#eef0c2" stroke="#789a44"/><ellipse cx="443.2" cy="117.6" rx="23" ry="7.9" fill="url(#hl)" stroke="none"/>
<ellipse cx="440.7" cy="174.8" rx="23.2" ry="10.9" fill="#c9dd9b" stroke="#6f9a4a"/><ellipse cx="440.7" cy="174.8" rx="23.2" ry="10.9" fill="url(#hl)" stroke="none"/>
<circle cx="549.6" cy="205.6" r="22.5" fill="#e8a46c" stroke="#b5763c"/><circle cx="549.6" cy="205.6" r="22.5" fill="url(#hl)" stroke="none"/>
<ellipse cx="626.3" cy="185.2" rx="23.5" ry="11.3" fill="#9fc9c1" stroke="#4c8f87"/><ellipse cx="626.3" cy="185.2" rx="23.5" ry="11.3" fill="url(#hl)" stroke="none"/>
<ellipse cx="627" cy="226" rx="23.5" ry="11" fill="#89aa66" stroke="#5e8444"/><ellipse cx="627" cy="226" rx="23.5" ry="11" fill="url(#hl)" stroke="none"/>
<ellipse cx="629.7" cy="268.7" rx="23.2" ry="11" fill="#89aa66" stroke="#5e8444"/><ellipse cx="629.7" cy="268.7" rx="23.2" ry="11" fill="url(#hl)" stroke="none"/>
<ellipse cx="629.5" cy="310.3" rx="23.4" ry="11.3" fill="#89aa66" stroke="#5e8444"/><ellipse cx="629.5" cy="310.3" rx="23.4" ry="11.3" fill="url(#hl)" stroke="none"/>
<ellipse cx="449" cy="250.5" rx="29.5" ry="13.4" fill="#89aa66" stroke="#5e8444"/><ellipse cx="449" cy="250.5" rx="29.5" ry="13.4" fill="url(#hl)" stroke="none"/>
<ellipse cx="353.9" cy="247.6" rx="23.5" ry="10.8" fill="#dcc1e5" stroke="#9465ab"/><ellipse cx="353.9" cy="247.6" rx="23.5" ry="10.8" fill="url(#hl)" stroke="none"/>
<ellipse cx="255.9" cy="272.4" rx="28.8" ry="11.5" fill="#8cb9a9" stroke="#3f8a80"/><ellipse cx="255.9" cy="272.4" rx="28.8" ry="11.5" fill="url(#hl)" stroke="none"/>
<ellipse cx="314.7" cy="328" rx="23.7" ry="10.9" fill="#f8bcc8" stroke="#a13a4e"/><ellipse cx="314.7" cy="328" rx="23.7" ry="10.9" fill="url(#hl)" stroke="none"/>
<ellipse cx="393" cy="331.5" rx="23.4" ry="14.4" fill="#e56f89" stroke="#a13a4e"/><ellipse cx="393" cy="331.5" rx="23.4" ry="14.4" fill="url(#hl)" stroke="none"/>
<!-- NAT77 circles + CLPD1 / OAT -->
<circle cx="102.3" cy="310.2" r="17" fill="#dcc6e4" stroke="#8c5f9c"/><circle cx="102.3" cy="310.2" r="17" fill="url(#hl)" stroke="none"/>
<ellipse cx="92.9" cy="335" rx="27" ry="17.8" fill="#eda95b" stroke="#c78937"/><ellipse cx="92.9" cy="335" rx="27" ry="17.8" fill="url(#hl)" stroke="none"/>
<circle cx="160.4" cy="309.7" r="17" fill="#dcc6e4" stroke="#8c5f9c"/><circle cx="160.4" cy="309.7" r="17" fill="url(#hl)" stroke="none"/>
<ellipse cx="179.8" cy="328.6" rx="26.6" ry="17.9" fill="#eda95b" stroke="#c78937"/><ellipse cx="179.8" cy="328.6" rx="26.6" ry="17.9" fill="url(#hl)" stroke="none"/>
<!-- HSF nodes -->
<ellipse cx="362" cy="422.7" rx="29.5" ry="16.3" fill="#f3d08c" stroke="#cb8c3c"/><ellipse cx="362" cy="422.7" rx="29.5" ry="16.3" fill="url(#hl)" stroke="none"/>
<ellipse cx="460.8" cy="378.2" rx="31" ry="14.4" fill="#d5b2e1" stroke="#9563b3"/><ellipse cx="460.8" cy="378.2" rx="31" ry="14.4" fill="url(#hl)" stroke="none"/>
<ellipse cx="516.8" cy="375.5" rx="24.7" ry="15.4" fill="#f3d08c" stroke="#cb8c3c"/><ellipse cx="516.8" cy="375.5" rx="24.7" ry="15.4" fill="url(#hl)" stroke="none"/>
<ellipse cx="558.5" cy="422.1" rx="26.3" ry="15.7" fill="#f3d08c" stroke="#cb8c3c"/><ellipse cx="558.5" cy="422.1" rx="26.3" ry="15.7" fill="url(#hl)" stroke="none"/>
<ellipse cx="635.6" cy="424.4" rx="29" ry="17.9" fill="#f3d08c" stroke="#cb8c3c"/><ellipse cx="635.6" cy="424.4" rx="29" ry="17.9" fill="url(#hl)" stroke="none"/>
<ellipse cx="721.8" cy="425" rx="27.6" ry="17.3" fill="#f3d08c" stroke="#cb8c3c"/><ellipse cx="721.8" cy="425" rx="27.6" ry="17.3" fill="url(#hl)" stroke="none"/>
<ellipse cx="415.3" cy="487.8" rx="15.5" ry="10" fill="#fcd96f" stroke="#d59530" stroke-width="1.5"/><ellipse cx="415.3" cy="487.8" rx="15.5" ry="10" fill="url(#hl)" stroke="none"/>
</g>

<!-- Ca channel -->
<g id="cachannel">
<rect x="328.5" y="52.6" width="16" height="37.5" rx="5" fill="#9ec6be"/>
<path d="M321.9,66 C321.9,58.5 326.5,55.6 330.8,55.6 C334,55.6 335.4,58 335.5,62 L336.6,86 C336.7,89.6 334.4,90.9 331.6,90.9 C328.9,90.9 327.8,89 327.8,86 C327.8,77.5 321.9,73.5 321.9,66 Z" fill="#d5ece7"/>
<path d="M350.7,65.5 C350.7,58 346.7,54.7 343.2,54.7 C340.2,54.7 339,57 339,61 L339.8,85 C339.9,88.6 341.6,89.8 344,89.8 C346.4,89.8 347.4,88 347.3,85 C347,77 350.7,72.5 350.7,65.5 Z" fill="#d5ece7"/>
<path d="M333.6,58 C335,58.5 335.4,60 335.5,62 L336.6,86 C336.7,89.6 334.4,90.9 331.6,90.9 C333.6,89.5 334.3,88 334.2,85 Z" fill="#b7dbd4"/>
<path d="M340.8,57 C339.4,57.8 339,59 339,61 L339.8,85 C339.9,88.6 341.6,89.8 344,89.8 C342.4,88.6 341.9,87 341.8,85 Z" fill="#b7dbd4"/>
</g>
<path class="ln ar" d="M332.3,36.3 L339.9,113"/>

<!-- Aquaporin -->
<g id="aquaporin" transform="rotate(10.5 647.5 85)">
<rect x="639.5" y="68.8" width="16" height="32.6" rx="2" fill="#a97ccb"/>
<rect x="645" y="68.8" width="5" height="32.6" fill="#9a6cc0"/>
<path d="M634.2,73 C634.2,69.5 636,67.6 638.3,67.6 C640.7,67.6 642.4,69.5 642.4,73 C642.4,78 641.4,81 641.4,85 C641.4,89 642.4,92 642.4,97 C642.4,100.5 640.7,102.4 638.3,102.4 C636,102.4 634.2,100.5 634.2,97 C634.2,92 635.4,89 635.4,85 C635.4,81 634.2,78 634.2,73 Z" fill="#dcbfe8"/>
<path d="M652.6,73 C652.6,69.5 654.3,67.6 656.7,67.6 C659,67.6 660.8,69.5 660.8,73 C660.8,78 659.6,81 659.6,85 C659.6,89 660.8,92 660.8,97 C660.8,100.5 659,102.4 656.7,102.4 C654.3,102.4 652.6,100.5 652.6,97 C652.6,92 653.6,89 653.6,85 C653.6,81 652.6,78 652.6,73 Z" fill="#dcbfe8"/>
</g>
<path class="ln ar" d="M654.8,54.1 L640.4,109.7"/>

<!-- CBL8 / CIPK17 -->
<g id="cbl">
<path d="M87.1,106.5 L92.6,125.5" stroke="#f3a9bd" stroke-width="2.2" fill="none"/>
<circle cx="85.3" cy="102.7" r="4.9" fill="#f6b6c6" stroke="#e996ad" stroke-width="0.6"/>
<circle cx="84" cy="96.6" r="4.9" fill="#f6b6c6" stroke="#e996ad" stroke-width="0.6"/>
<circle cx="82.4" cy="90.3" r="4.9" fill="#f6b6c6" stroke="#e996ad" stroke-width="0.6"/>
<circle cx="80.8" cy="84" r="4.9" fill="#f6b6c6" stroke="#e996ad" stroke-width="0.6"/>
<rect x="85.3" y="125" width="15.4" height="10.4" rx="3.5" fill="#f3a5ba"/>
<ellipse cx="93" cy="127.2" rx="7.6" ry="2.6" fill="#f8bccb"/>
<path d="M94.1,135 L101.3,160.5 M98.5,134.5 L106.6,164.6" stroke="#b98b52" stroke-width="1.2" fill="none"/>
<path d="M100.4,157 L105.2,157 L107,164.8 L102.4,163 Z" fill="#b98b52"/>
<g transform="translate(100.4 148) rotate(-16)">
<rect x="-4.6" y="-6.4" width="4.3" height="12.8" fill="#f7e08c" stroke="#e6c766" stroke-width="0.5"/>
<rect x="0.3" y="-6.4" width="4.3" height="12.8" fill="#f7e08c" stroke="#e6c766" stroke-width="0.5"/>
<path d="M-4.6,0 L4.6,0" stroke="#e6c766" stroke-width="0.6"/>
</g>
<g transform="translate(96.9 171.6) rotate(30)">
<rect x="-4.6" y="-6.6" width="4.3" height="13.2" fill="#f7e08c" stroke="#e6c766" stroke-width="0.5"/>
<rect x="0.3" y="-6.6" width="4.3" height="13.2" fill="#f7e08c" stroke="#e6c766" stroke-width="0.5"/>
<path d="M-4.6,0 L4.6,0" stroke="#e6c766" stroke-width="0.6"/>
</g>
<g transform="translate(114.8 167.2) rotate(-58)">
<rect x="-4.6" y="-7" width="4.3" height="14" fill="#f7e08c" stroke="#e6c766" stroke-width="0.5"/>
<rect x="0.3" y="-7" width="4.3" height="14" fill="#f7e08c" stroke="#e6c766" stroke-width="0.5"/>
<path d="M-4.6,0 L4.6,0" stroke="#e6c766" stroke-width="0.6"/>
</g>
</g>

<!-- ions -->
<g id="ca" fill="#6d90d2" stroke="#3558ad" stroke-width="1.1">
<circle cx="329.3" cy="25" r="3.7"/><circle cx="345.4" cy="25" r="3.7"/>
<circle cx="341.4" cy="128" r="3.7"/><circle cx="355.6" cy="126.3" r="3.7"/>
<circle cx="334.3" cy="138.3" r="3.7"/><circle cx="355.6" cy="138.8" r="3.7"/>
<circle cx="88.8" cy="102" r="3.7"/>
<circle cx="230.8" cy="265.7" r="3.7"/>
<circle cx="337.8" cy="240.1" r="3.7"/>
</g>
<g id="h2o2" fill="#f8b0aa" stroke="#b03c40" stroke-width="1.3">
<circle cx="658.5" cy="39.3" r="3.7"/><circle cx="658.5" cy="50" r="3.7"/>
<circle cx="637.1" cy="120.1" r="3.7"/><circle cx="619" cy="127.1" r="3.7"/>
<circle cx="637.1" cy="131.9" r="3.7"/><circle cx="626.1" cy="138.9" r="3.7"/>
</g>

<!-- labels -->
<g id="labels">
<text x="32" y="85">CBL8</text>
<text x="39" y="161.5">CIPK17</text>
<text x="287" y="37">Ca<tspan class="s" dy="-4.5">2+</tspan></text>
<text x="206.5" y="62">Ca<tspan class="s" dy="-4.5">2+</tspan><tspan dy="4.5"> channels</tspan></text>
<text x="435" y="41.4">O<tspan class="s" dy="5.7">2</tspan></text>
<text x="556.6" y="33.8">O<tspan class="s" dy="5.7">2</tspan><tspan class="s" dy="-10.6" dx="0.5">-</tspan></text>
<text x="618.5" y="33.8">H<tspan class="s" dy="5.7">2</tspan><tspan dy="-5.7">O</tspan><tspan class="s" dy="5.7">2</tspan></text>
<text x="675.5" y="74.3">Aquaporins</text>
<text x="650.8" y="133.9">H<tspan class="s" dy="5.7">2</tspan><tspan dy="-5.7">O</tspan><tspan class="s" dy="5.7">2</tspan></text>
<text x="319.5" y="158.9">Ca<tspan class="s" dy="-4.5">2+</tspan></text>
<text x="108" y="287.6">NAT77</text>
<text x="381.2" y="476.5">HSFs</text>
<text x="453.7" y="523.9">HSPs</text>
<text x="559" y="485.6">HSP expression</text>
<text x="687.5" y="472">Cytoplasm</text>
<text x="692.8" y="506.9">Nucleus</text>

<text class="m" x="506.3" y="85.2">RBOH</text>
<text class="m" x="443" y="122.6">CDPK</text>
<text class="m" x="441" y="179.7">NO</text>
<text class="m" x="549.4" y="211.5">MBHc</text>
<text class="m" x="625.7" y="189.9">ROS</text>
<text class="m" x="627.2" y="231.3">MAPKKK</text>
<text class="m" x="629" y="273.9">MAPKK</text>
<text class="m" x="629.3" y="315.3">MAPK</text>
<text class="m" x="448.6" y="254.9">GSNOR</text>
<text class="m" x="353.6" y="252.3">CaMs</text>
<text class="m" x="255.1" y="276.8">CMLs</text>
<text class="m" x="314" y="333.1">CBK3</text>
<text class="m" x="392.4" y="336.2">PP7</text>
<text class="m" x="92.1" y="339.9">CLPD1</text>
<text class="m" x="179.6" y="332.7">OAT</text>
<text class="m g" x="362.6" y="427.7">HSFA1s</text>
<text class="m g" x="460.8" y="382.9">HSFBs</text>
<text class="m g" x="516.8" y="379.9">HSFA3</text>
<text class="m g" x="558.7" y="427.8">HSFA2</text>
<text class="m g" x="635.4" y="429.2">HSFA4a</text>
<text class="m g" x="721.6" y="429.8">HSFA8</text>
</g>
</svg>
</body></html>
